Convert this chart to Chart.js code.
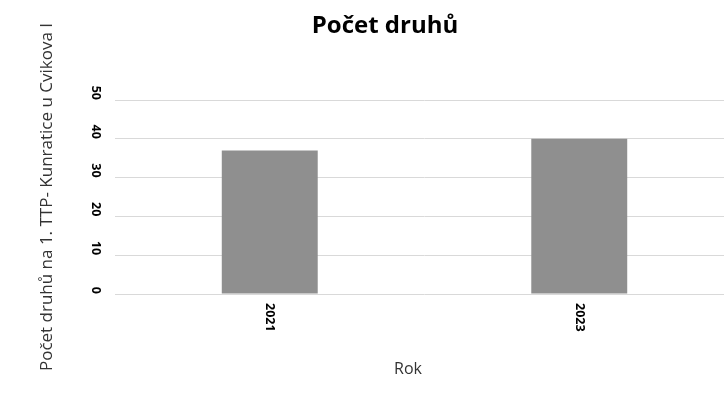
<!DOCTYPE html>
<html>
<head>
<meta charset="utf-8">
<script src="https://cdn.jsdelivr.net/npm/chart.js@4.4.1/dist/chart.umd.min.js"></script>
<style>
  html, body { margin: 0; padding: 0; background: #fff; overflow: hidden; }
  #wrap { width: 724px; height: 410px; overflow: hidden; }
  #box { width: 734px; height: 410px; }
</style>
</head>
<body>
<div id="wrap"><div id="box"><canvas id="graf"></canvas></div></div>
<script>
// data
const roky    = ['2021', '2023'];
const druhy   = [37, 40];
const yTicks  = [0, 10, 20, 30, 40, 50];
const osaX    = 'Rok';

const FONT = "'Open Sans', 'Liberation Sans', sans-serif";

// tick labels turned 90° clockwise, like the original; x title sits left of centre
const otoceneStitky = {
  id: 'otoceneStitky',
  afterDraw(chart) {
    const { ctx, scales: { x, y } } = chart;
    ctx.save();
    ctx.fillStyle = '#000';
    ctx.font = "bold 12.5px " + FONT;
    ctx.textBaseline = 'middle';

    // y axis
    y.ticks.forEach(t => {
      const py = y.getPixelForValue(t.value);
      ctx.save();
      ctx.translate(x.left - 19, py);
      ctx.rotate(Math.PI / 2);
      ctx.textAlign = 'right';
      ctx.fillText(String(t.value), 0, 0);
      ctx.restore();
    });

    // x axis
    roky.forEach((r, i) => {
      const px = x.getPixelForTick(i);
      ctx.save();
      ctx.translate(px, y.bottom + 9);
      ctx.rotate(Math.PI / 2);
      ctx.textAlign = 'left';
      ctx.fillText(r, 0, 0);
      ctx.restore();
    });

    // x axis title
    ctx.font = "16px " + FONT;
    ctx.fillStyle = '#333';
    ctx.textAlign = 'center';
    ctx.fillText(osaX, x.left + 293, y.bottom + 75);
    ctx.restore();
  }
};

new Chart(document.getElementById('graf'), {
  type: 'bar',
  data: {
    labels: roky,
    datasets: [{ label: 'Počet druhů', data: druhy, backgroundColor: '#8f8f8f', barPercentage: 0.31, categoryPercentage: 1 }]
  },
  plugins: [otoceneStitky],
  options: {
    responsive: true, maintainAspectRatio: false, animation: false,
    layout: { padding: { left: 36, right: 0, top: 12, bottom: 26 } },
    plugins: {
      legend: { display: false },
      tooltip: { enabled: false },
      title: { display: true, text: 'Počet druhů', color: '#000', font: { family: FONT, size: 24, weight: 'bold' }, padding: { top: 0, bottom: 59.2 } }
    },
    scales: {
      x: {
        grid: { display: false },
        border: { display: false },
        ticks: { display: false },
        afterFit: s => { s.height = 90; }
      },
      y: {
        min: 0, max: 50,
        afterBuildTicks: s => { s.ticks = yTicks.map(v => ({ value: v })); },
        grid: { color: '#d9d9d9', drawTicks: false },
        border: { display: false },
        ticks: { display: false },
        title: { display: true, text: 'Počet druhů na 1. TTP- Kunratice u Cvikova I', color: '#333', font: { family: FONT, size: 17 }, padding: { top: 1, bottom: 0 } },
        afterFit: s => { s.width = 79; }
      }
    }
  }
});
</script>
</body>
</html>
